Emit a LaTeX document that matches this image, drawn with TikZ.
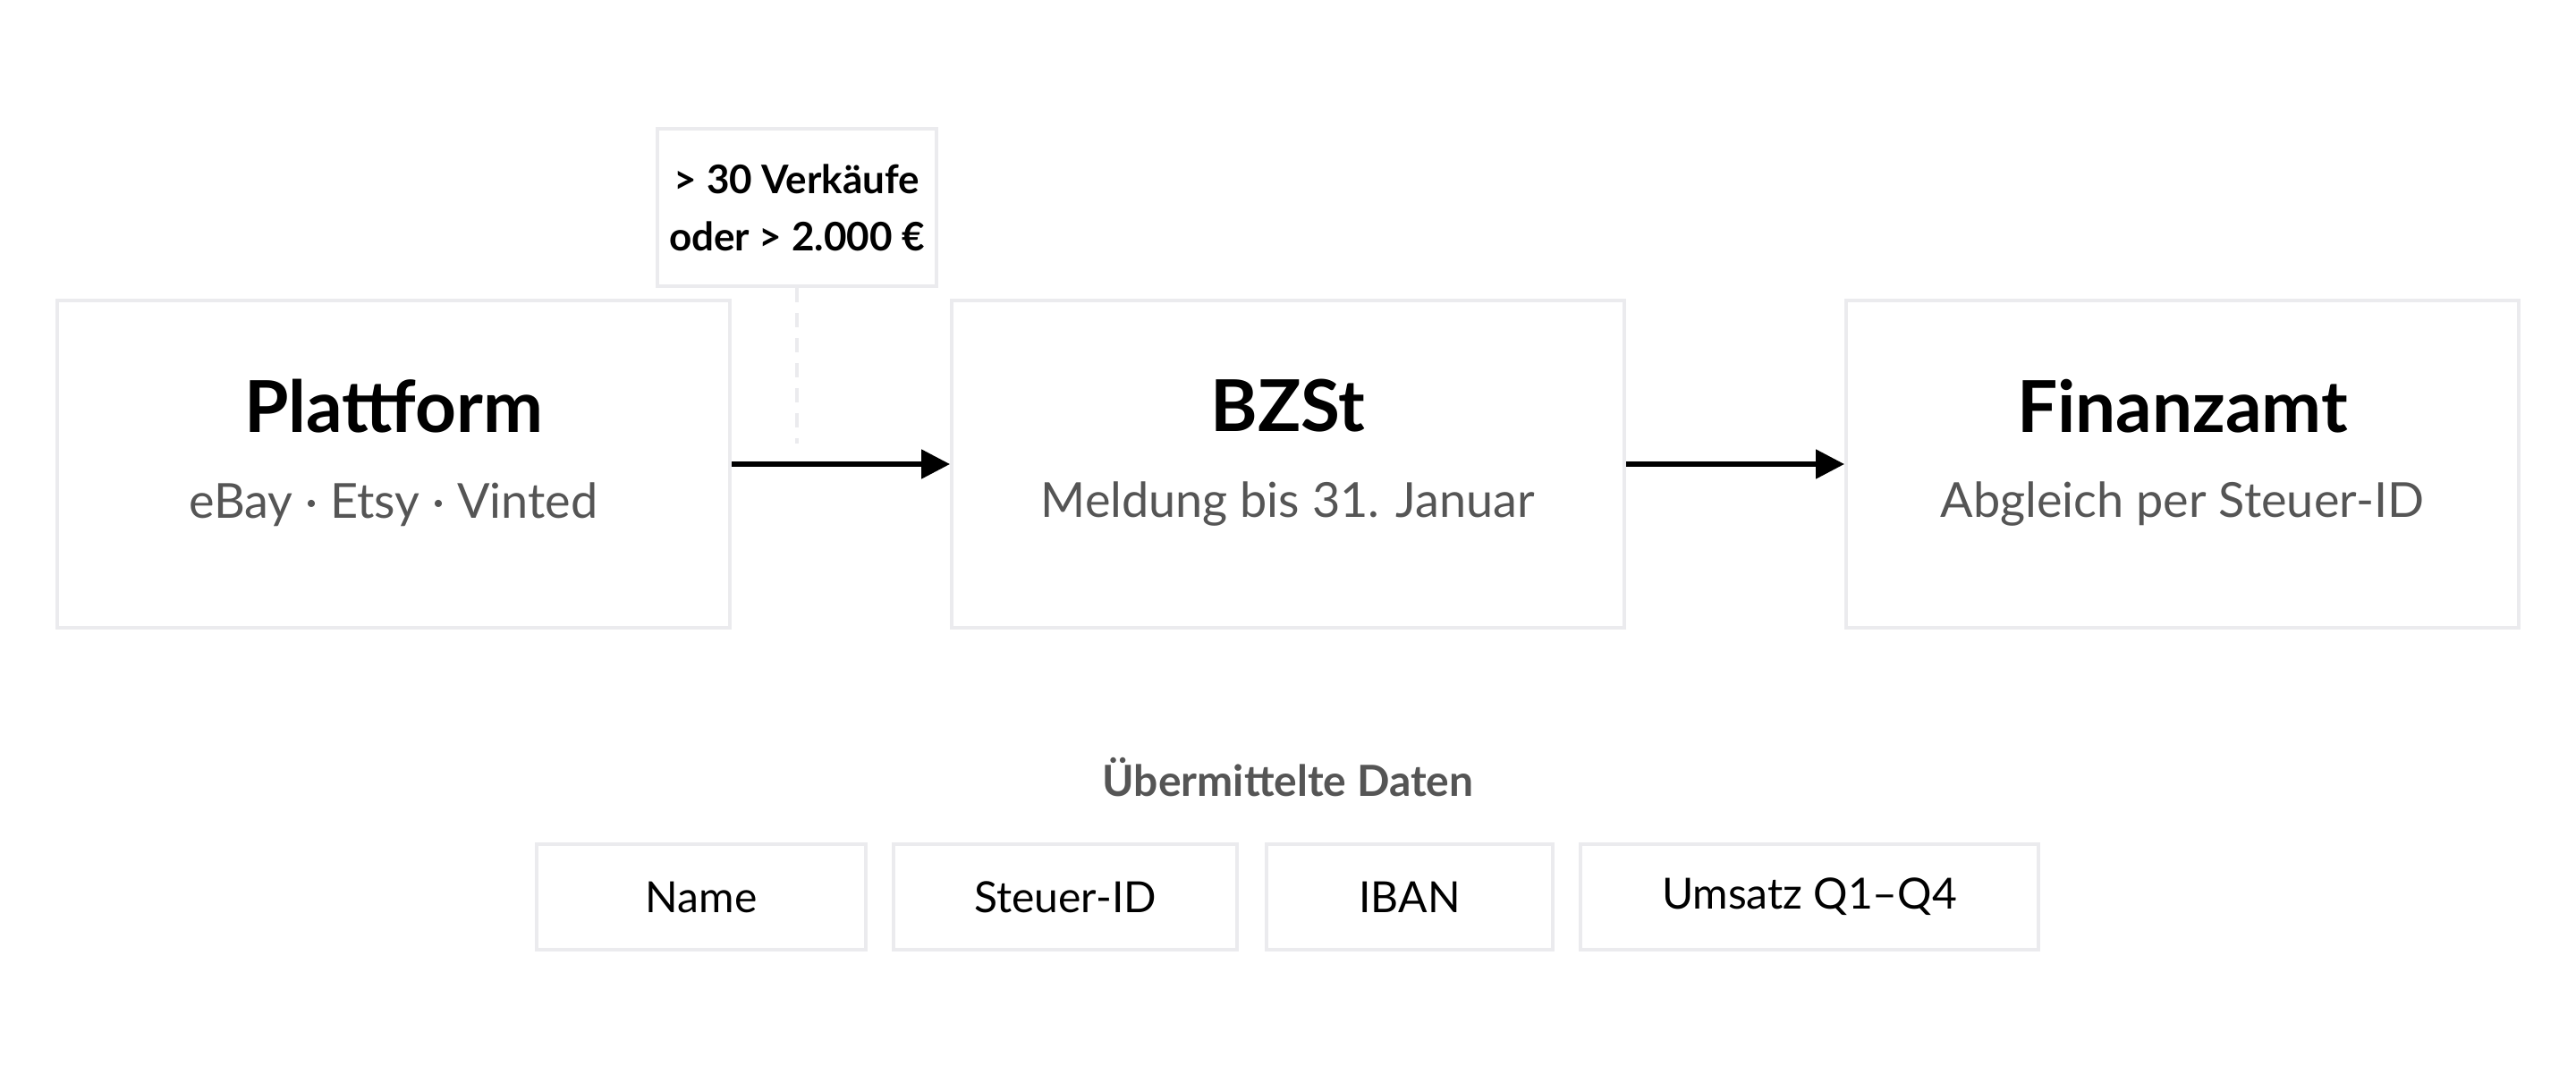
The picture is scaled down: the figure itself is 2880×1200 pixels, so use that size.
\documentclass[tikz,border=0pt]{standalone}
\usepackage{fontspec}
\setmainfont{Lato}
\usetikzlibrary{positioning}
\usetikzlibrary{arrows.meta}
\definecolor{frame}{HTML}{EBEBEE}
\definecolor{subgrey}{HTML}{555555}
\tikzset {
  % main stage box
  stage/.style = {
    draw = frame,
    line width = 1pt,
    minimum width = 188pt,
    minimum height = 91.5pt,
    inner sep = 0
  },
  % data field box
  field/.style = {
    draw = frame,
    line width = 0.8pt,
    minimum height = 29.5pt,
    inner sep = 0,
    font = \fontsize{12}{14}\selectfont
  },
  flow/.style = {
    draw = black,
    line width = 1.3pt,
    -{Triangle[length=8pt,width=8pt]}
  },
  title/.style = {font = \fontsize{20}{24}\selectfont\bfseries},
  sub/.style = {font = \fontsize{13.5}{16}\selectfont, text = subgrey},
  node distance = 61pt
}
\begin{document}
\begin{tikzpicture}[x=0.25pt,y=-0.25pt]
    \useasboundingbox (0,0) rectangle (2880,1200);
    \node[stage] (plattform) at (440,519) {};
    \node[stage] (bzst) [right=of plattform] {};
    \node[stage] (finanzamt) [right=of bzst] {};

    \node[title] at (440,454) {Plattform};
    \node[sub] at (440,564) {eBay · Etsy · Vinted};
    \node[title] at (bzst |- 0,454) {BZSt};
    \node[sub] at (bzst |- 0,564) {Meldung bis 31. Januar};
    \node[title] at (finanzamt |- 0,454) {Finanzamt};
    \node[sub] at (finanzamt |- 0,564) {Abgleich per Steuer-ID};

    \node[draw=frame, line width=1pt, minimum width=78pt, minimum height=44pt,
      align=center, font=\fontsize{11}{16}\selectfont\bfseries]
      (schwelle) at (891,232) {> 30 Verkäufe\\oder > 2.000 €};
    \coordinate (schwelle-end) at (891,496);
    \draw[frame, line width=1pt, dash pattern=on 4pt off 3pt]
      (schwelle) -- (schwelle-end);

    \draw[flow] (plattform) -- (bzst);
    \draw[flow] (bzst) -- (finanzamt);

    \node[font=\fontsize{12}{14}\selectfont\bfseries, text=subgrey]
      (daten) at (1440,869) {Übermittelte Daten};
    \node[field, minimum width=92pt] (name) at (784,1003) {Name};
    \node[field, minimum width=96pt] (steuerid) at (1191,1003) {Steuer-ID};
    \node[field, minimum width=80pt] (iban) at (1576,1003) {IBAN};
    \node[field, minimum width=128pt] (umsatz) at (2023,1003) {Umsatz Q1–Q4};
\end{tikzpicture}
\end{document}
